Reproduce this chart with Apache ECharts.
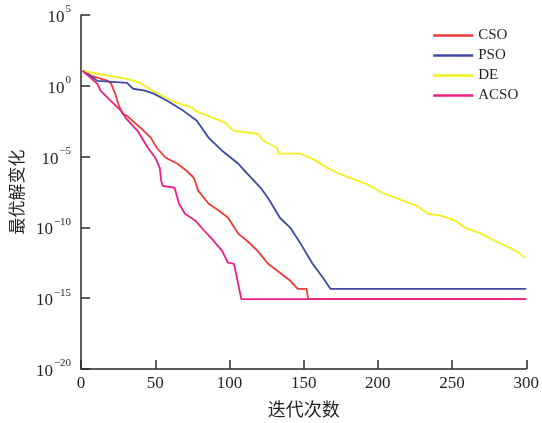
<!DOCTYPE html>
<html>
<head>
<meta charset="utf-8">
<script src="https://cdn.jsdelivr.net/npm/echarts@6/dist/echarts.min.js"></script>
<style>
html,body{margin:0;padding:0;background:#fff;}
#c{width:542px;height:423px;}
</style>
</head>
<body>
<div id="c"></div>
<script>
// Iteration numbers (x) and best-value (y) for each algorithm
var csoX = [1, 7, 18, 20, 23, 25, 28, 31, 36, 40, 47, 51, 57, 65, 71, 76, 79, 86, 93, 99, 106, 112, 119, 126, 134, 141, 146, 152, 153, 300];
var csoY = [11.5, 5.1, 2.2, 1.6, 2.8e-1, 5.4e-2, 1.05e-2, 7.6e-3, 2.5e-3, 1.1e-3, 2.1e-4, 4.2e-5, 8.3e-6, 3.1e-6, 1e-6, 3.2e-7, 3.8e-8, 4.7e-9, 1.5e-9, 4.8e-10, 3.5e-11, 1.1e-11, 2.2e-12, 2.7e-13, 6.2e-14, 1.7e-14, 4.6e-15, 4.6e-15, 8.5e-16, 8.5e-16];

var psoX = [1, 9, 11, 31, 35, 43, 49, 58, 69, 78, 86, 95, 106, 112, 121, 126, 134, 141, 148, 156, 163, 168, 300];
var psoY = [11.5, 3.1, 2.2, 1.6, 6.2e-1, 4.5e-1, 2.8e-1, 8.7e-2, 1.7e-2, 3.4e-3, 2.1e-4, 2.6e-5, 3.1e-6, 6.2e-7, 6.3e-8, 1.2e-8, 4.8e-10, 9.3e-11, 6.9e-12, 2.7e-13, 2.8e-14, 4.6e-15, 4.6e-15];

var deX = [1, 11, 31, 40, 48, 51, 61, 75, 77, 97, 103, 119, 123, 132, 133, 148, 156, 166, 174, 183, 192, 203, 212, 226, 234, 243, 252, 259, 270, 279, 289, 295, 299];
var deY = [11.5, 7.1, 3.1, 1.6, 4.5e-1, 3.2e-1, 8.7e-2, 2.8e-2, 1.7e-2, 2.5e-3, 6.6e-4, 4.1e-4, 1.3e-4, 4.2e-5, 1.6e-5, 1.6e-5, 6.9e-6, 1.6e-6, 6.2e-7, 2.7e-7, 1.2e-7, 2.8e-8, 1.2e-8, 3.4e-9, 9.1e-10, 6.6e-10, 3.0e-10, 9.3e-11, 3.5e-11, 1.1e-11, 3.6e-12, 1.6e-12, 7.1e-13];

var acsoX = [1, 11, 13, 20, 27, 30, 38, 45, 50, 53, 54, 55, 63, 66, 70, 77, 83, 88, 95, 99, 103, 105, 108, 300];
var acsoY = [11.5, 1.38, 4.5e-1, 8.7e-2, 1.7e-2, 5.5e-3, 6.6e-4, 4.2e-5, 8.3e-6, 1.6e-6, 1.9e-7, 8.7e-8, 6.3e-8, 4.7e-9, 9.1e-10, 3.0e-10, 5.8e-11, 1.6e-11, 2.2e-12, 3.2e-13, 2.7e-13, 2.8e-14, 8.5e-16, 8.5e-16];

var seriesNames = ['CSO', 'PSO', 'DE', 'ACSO'];
var seriesColors = ['#f03a3a', '#3e4aa0', '#f4ef1e', '#ec1f86'];
var xTicks = [0, 50, 100, 150, 200, 250, 300];
var yExponents = [-20, -15, -10, -5, 0, 5];

function zip(xs, ys) { return xs.map(function (x, i) { return [x, ys[i]]; }); }
var allData = [zip(csoX, csoY), zip(psoX, psoY), zip(deX, deY), zip(acsoX, acsoY)];

var serif = '"Liberation Serif", "DejaVu Serif", serif';
var cjk = '"Noto Sans CJK SC", sans-serif';
var txt = '#231f20';

var chart = echarts.init(document.getElementById('c'), null, {renderer: 'canvas'});
chart.setOption({
  backgroundColor: '#ffffff',
  animation: false,
  grid: {left: 78, right: 13, top: 15, bottom: 54, containLabel: false},
  legend: {
    orient: 'vertical',
    left: 427,
    top: 23,
    itemWidth: 40,
    itemHeight: 14,
    itemGap: 5,
    data: seriesNames,
    itemStyle: {opacity: 0, borderWidth: 0},
    lineStyle: {width: 2.5},
    textStyle: {fontFamily: serif, fontSize: 15, color: txt}
  },
  xAxis: {
    type: 'value',
    min: xTicks[0],
    max: xTicks[xTicks.length - 1],
    interval: 50,
    name: '迭代次数',
    nameLocation: 'middle',
    nameGap: 31,
    nameTextStyle: {fontFamily: cjk, fontSize: 18, color: txt},
    axisLine: {show: true, lineStyle: {color: '#2a2a2a', width: 1.5}},
    axisTick: {show: true, inside: true, length: 9, lineStyle: {color: '#2a2a2a', width: 1.5}},
    axisLabel: {fontFamily: serif, fontSize: 17, color: txt, margin: 6},
    splitLine: {show: false}
  },
  yAxis: {
    type: 'log',
    logBase: 10,
    min: Math.pow(10, yExponents[0]),
    max: Math.pow(10, yExponents[yExponents.length - 1]),
    interval: 5,
    name: '最优解变化',
    nameLocation: 'middle',
    nameGap: 52,
    nameRotate: 90,
    nameTextStyle: {fontFamily: cjk, fontSize: 17, color: txt},
    axisLine: {show: true, lineStyle: {color: '#2a2a2a', width: 1.5}},
    axisTick: {show: true, inside: true, length: 9, lineStyle: {color: '#2a2a2a', width: 1.5}},
    axisLabel: {
      margin: 10,
      formatter: function (v) {
        var e = Math.round(Math.log10(v));
        var s = e < 0 ? '\u2212' + (-e) : '' + e;
        return '{b|10}{s|' + s + '}';
      },
      rich: {
        b: {fontFamily: serif, fontSize: 17, color: txt, lineHeight: 22, verticalAlign: 'bottom'},
        s: {fontFamily: serif, fontSize: 11, color: txt, lineHeight: 22, verticalAlign: 'top', padding: [0, 0, 0, 1]}
      }
    },
    splitLine: {show: false}
  },
  series: seriesNames.map(function (n, i) {
    return {
      name: n,
      type: 'line',
      data: allData[i],
      symbol: 'none',
      color: seriesColors[i],
      lineStyle: {width: 1.8, color: seriesColors[i]},
      z: i === 3 ? 5 : 2
    };
  })
});
</script>
</body>
</html>
